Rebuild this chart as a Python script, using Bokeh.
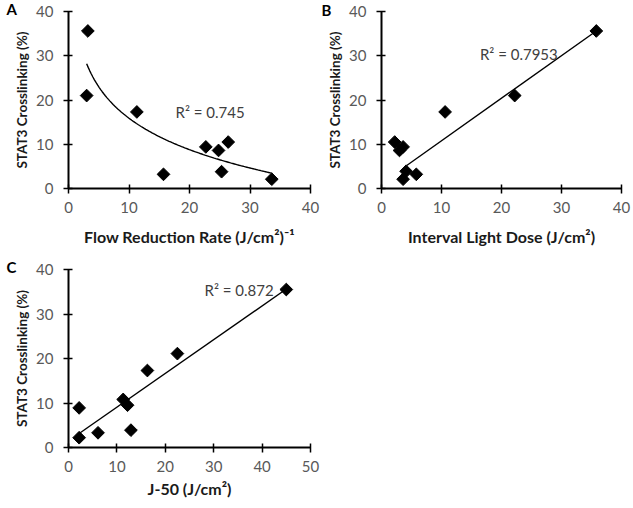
import numpy as np
from bokeh.plotting import figure
from bokeh.models import Range1d, FixedTicker, Label, Title
from bokeh.layouts import column, row
from bokeh.embed import file_html
from bokeh.resources import INLINE

# ---- data ----
a_x = [3.2, 3.0, 11.3, 15.7, 22.7, 24.8, 25.3, 26.4, 33.6]
a_y = [35.6, 21.0, 17.3, 3.2, 9.4, 8.6, 3.8, 10.5, 2.1]
b_x = [35.8, 22.2, 10.6, 5.8, 2.2, 3.6, 3.0, 4.1, 3.6]
b_y = [35.6, 21.0, 17.3, 3.2, 10.5, 9.4, 8.6, 3.9, 2.1]
b_trend_x = [4.2, 35.8]      # trend line as drawn in the reference
b_trend_y = [5.2, 35.6]
c_x = [45.0, 22.5, 16.3, 11.3, 12.2, 2.2, 2.2, 6.1, 12.9]
c_y = [35.5, 21.1, 17.3, 10.8, 9.5, 8.9, 2.2, 3.3, 3.9]
r2_texts = ["R\u00b2 = 0.745", "R\u00b2 = 0.7953", "R\u00b2 = 0.872"]
panel_letters = ["A", "B", "C"]
x_titles = ["Flow Reduction Rate (J/cm\u00b2)\u207b\u00b9",
            "Interval Light Dose (J/cm\u00b2)",
            "J-50 (J/cm\u00b2)"]
y_title = "STAT3 Crosslinking (%)"
y_ticks = [0, 10, 20, 30, 40]
ab_x_ticks = [0, 10, 20, 30, 40]
c_x_ticks = [0, 10, 20, 30, 40, 50]

FONT = "Lato"
TICK_COLOR = "#595959"
R2_COLOR = "#404040"
TITLE_COLOR = "#1a1a1a"


def make_fig(xmax, xticks, width, height, left, right, top, bottom):
    p = figure(width=width, height=height,
               x_range=Range1d(0, xmax), y_range=Range1d(0, 40),
               output_backend="svg", toolbar_location=None,
               min_border_left=left, min_border_right=right,
               min_border_top=top, min_border_bottom=bottom)
    p.outline_line_color = None
    p.xgrid.visible = False
    p.ygrid.visible = False
    p.xaxis.ticker = FixedTicker(ticks=xticks)
    p.yaxis.ticker = FixedTicker(ticks=y_ticks)
    for ax in (p.xaxis, p.yaxis):
        ax.axis_line_color = "black"
        ax.axis_line_width = 2
        ax.major_tick_line_color = "black"
        ax.major_tick_line_width = 1.5
        ax.major_tick_in = 4
        ax.major_tick_out = 5
        ax.minor_tick_line_color = None
        ax.major_label_text_font = FONT
        ax.major_label_text_font_size = "15px"
        ax.major_label_text_color = TICK_COLOR
    p.yaxis.major_label_standoff = 10
    p.xaxis.major_label_standoff = 8
    return p


def add_points(p, xs, ys):
    p.scatter(xs, ys, marker="square", angle=np.pi / 4, size=9,
              fill_color="black", line_color="black")


def add_r2(p, x, y, text):
    p.add_layout(Label(x=x, y=y, text=text, text_font=FONT,
                       text_font_size="15px", text_color=R2_COLOR,
                       text_align="left", text_baseline="middle"))


def add_titles(p, letter, letter_offset, letter_standoff, xt, x_off, x_standoff, y_off, y_standoff):
    p.add_layout(Title(text=xt, align="center", offset=x_off, standoff=x_standoff,
                       text_font=FONT, text_font_size="16px",
                       text_font_style="bold", text_color=TITLE_COLOR), "below")
    p.add_layout(Title(text=y_title, align="center", offset=y_off, standoff=y_standoff,
                       text_font=FONT, text_font_size="13.5px",
                       text_font_style="bold", text_color=TITLE_COLOR), "left")
    p.add_layout(Title(text=letter, align="left", offset=letter_offset, standoff=letter_standoff,
                       text_font=FONT, text_font_size="15px",
                       text_font_style="bold", text_color="black"), "above")


# ---- Panel A (logarithmic trend) ----
pA = make_fig(40, ab_x_ticks, 320, 258, 68, 10, 11, 70)
coef_a = np.polyfit(np.log(a_x), a_y, 1)
fa_x = np.linspace(min(a_x), max(a_x), 120)
pA.line(fa_x, coef_a[0] * np.log(fa_x) + coef_a[1], line_color="black", line_width=1.4)
add_points(pA, a_x, a_y)
add_r2(pA, 17.7, 17.3, r2_texts[0])
add_titles(pA, panel_letters[0], -62, -12, x_titles[0], 15, 18, 12, 8)

# ---- Panel B (linear trend) ----
pB = make_fig(40, ab_x_ticks, 313, 258, 58, 12, 11, 70)
pB.line(b_trend_x, b_trend_y, line_color="black", line_width=1.4)
add_points(pB, b_x, b_y)
add_r2(pB, 16.4, 30.5, r2_texts[1])
add_titles(pB, panel_letters[1], -60, -14, x_titles[1], -1, 18, 12, 8)

# ---- Panel C (linear trend) ----
pC = make_fig(50, c_x_ticks, 320, 247, 68, 10, 11, 58)
coef_c = np.polyfit(c_x, c_y, 1)
fc_x = np.array([min(c_x), max(c_x)])
pC.line(fc_x, coef_c[0] * fc_x + coef_c[1], line_color="black", line_width=1.4)
add_points(pC, c_x, c_y)
add_r2(pC, 28.1, 35.3, r2_texts[2])
add_titles(pC, panel_letters[2], -62, -12, x_titles[2], 13, 5, 19, 8)

layout = column(row(pA, pB), pC)
open("out.html", "w").write(file_html(layout, INLINE))
